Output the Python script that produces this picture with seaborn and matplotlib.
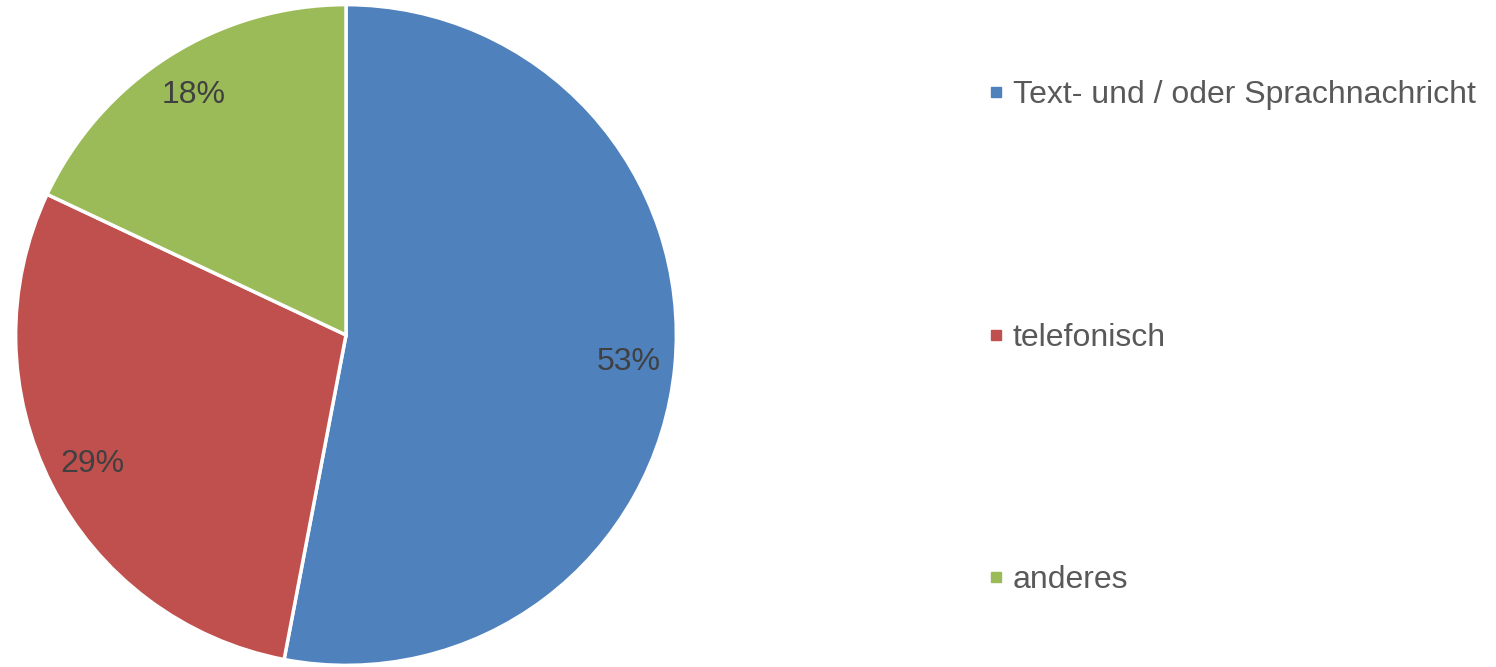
import matplotlib
matplotlib.use("Agg")
import matplotlib.pyplot as plt
from matplotlib.lines import Line2D
import seaborn as sns

categories = ["Text- und / oder Sprachnachricht", "telefonisch", "anderes"]
shares = [53, 29, 18]
colors = ["#4F81BD", "#C0504D", "#9BBB59"]

sns.set_theme(style="white")
plt.rcParams["font.family"] = ["Liberation Sans", "DejaVu Sans"]

W, H = 1496, 667
fig = plt.figure(figsize=(W / 100, H / 100), dpi=100)
cx, cy, r = 346, 335, 332
ax = fig.add_axes([(cx - r) / W, (H - cy - r) / H, 2 * r / W, 2 * r / H])

palette = sns.color_palette(colors)
wedges, texts, autotexts = ax.pie(
    shares,
    colors=palette,
    startangle=90,
    counterclock=False,
    autopct=lambda p: f"{p:.0f}%",
    pctdistance=0.86,
    radius=1.0,
    wedgeprops=dict(edgecolor="white", linewidth=2.5),
    textprops=dict(color="#404040", fontsize=23),
)
ax.set_xlim(-1.005, 1.005)
ax.set_ylim(-1.005, 1.005)
ax.set_aspect("equal")
ax.axis("off")

handles = [
    Line2D([0], [0], marker="s", linestyle="none", markersize=7.5,
           markerfacecolor=c, markeredgecolor=c)
    for c in colors
]
fig.legend(
    handles, categories,
    loc="upper left", bbox_to_anchor=(987 / W, 1 - 80 / H),
    frameon=False, fontsize=23, labelcolor="#595959",
    handlelength=0.55, handletextpad=0.25, labelspacing=6.66,
    borderaxespad=0, borderpad=0,
)

fig.savefig("out.png", dpi=100, facecolor="white")
